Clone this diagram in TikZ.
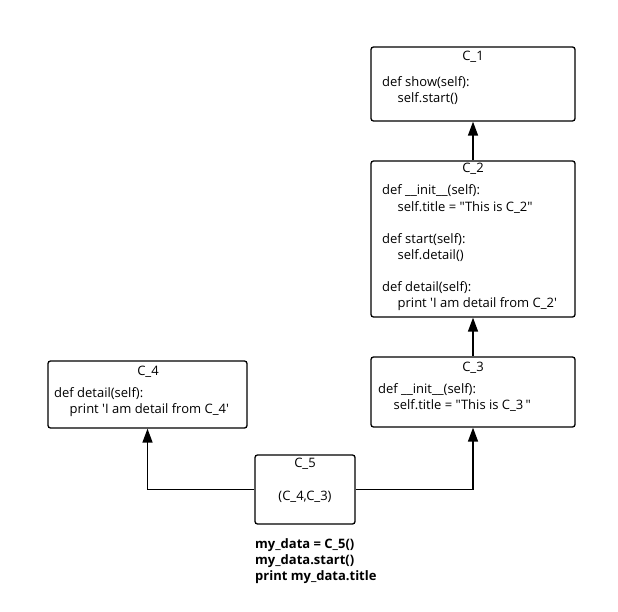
\documentclass[tikz,border=0pt]{standalone}
\usepackage{fontspec}
\setmainfont{Open Sans}[Ligatures=TeXOff]
\usetikzlibrary{arrows.meta}
\tikzset{
  cls/.style={draw, line width=1.3pt, rounded corners=2.5pt, inner sep=0pt},
  ttl/.style={anchor=base, inner sep=0pt, font=\fontsize{13}{16}\selectfont},
  code/.style={anchor=base west, align=left, inner sep=0pt, font=\fontsize{13}{16}\selectfont},
  inh/.style={line width=1.5pt, -{Triangle[length=14pt,width=10pt]}}
}
\newcommand{\ind}{\hspace*{15.5pt}}
\begin{document}
\begin{tikzpicture}[x=1pt,y=-1pt]
    \useasboundingbox (0,0) rectangle (618,612);
    \node[cls, minimum width=204pt, minimum height=74pt] (c1) at (473,84) {};
    \node[cls, minimum width=204pt, minimum height=156pt] (c2) at (473,239) {};
    \node[cls, minimum width=204pt, minimum height=70pt] (c3) at (473,392) {};
    \node[cls, minimum width=199pt, minimum height=67pt] (c4) at (147.5,394.5) {};
    \node[cls, minimum width=100pt, minimum height=69pt] (c5) at (305,489.5) {};
    \node[ttl] (t1) at (473,61) {C\_1};
    \node[code] (b1) at (382,103) {def show(self):\\ \ind self.start()};
    \node[ttl] (t2) at (473,173) {C\_2};
    \node[code] (b2) at (382,307) {def \_\_init\_\_(self):\\ \ind self.title = "This is C\_2"\\[16pt]
        def start(self):\\ \ind self.detail()\\[16pt]
        def detail(self):\\ \ind print 'I am detail from C\_2'};
    \node[ttl] (t3) at (473,371) {C\_3};
    \node[code] (b3) at (378,409) {def \_\_init\_\_(self):\\ \ind self.title = "This is C\_3\,"};
    \node[ttl] (t4) at (148,375) {C\_4};
    \node[code] (b4) at (54,413) {def detail(self):\\ \ind print 'I am detail from C\_4'};
    \node[ttl] (t5) at (305,467) {C\_5};
    \node[ttl] (p5) at (305,500) {(C\_4,C\_3)};
    \node[code, font=\fontsize{13}{16}\selectfont\bfseries] (run) at (255,580)
        {my\_data = C\_5()\\ my\_data.start()\\ print my\_data.title};
    \draw[inh] (c2) -- (c1);
    \draw[inh] (c3) -- (c2);
    \draw[inh] (c5.east) -| (c3.south);
    \draw[inh] (c5.west) -| (c4.south);
\end{tikzpicture}
\end{document}
